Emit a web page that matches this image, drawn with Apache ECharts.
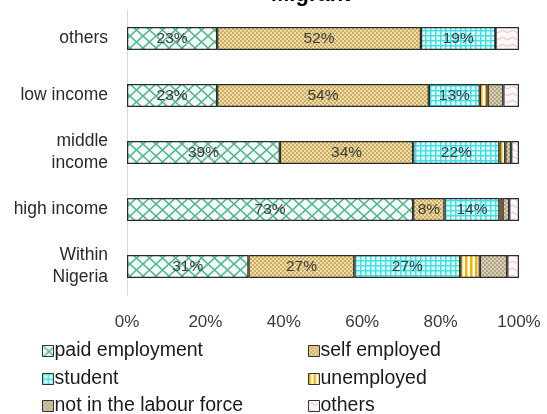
<!DOCTYPE html>
<html>
<head>
<meta charset="utf-8">
<script src="https://cdn.jsdelivr.net/npm/echarts@6/dist/echarts.min.js"></script>
<style>
  html, body { margin: 0; padding: 0; background: #fff; }
  #chart { width: 547px; height: 414px; }
</style>
</head>
<body>
<div id="chart"></div>
<script>
// Groups (bottom to top on the chart)
const categories = ['Within\nNigeria', 'high income', 'middle\nincome', 'low income', 'others'];
const seriesNames = ['paid employment', 'self employed', 'student', 'unemployed', 'not in the labour force', 'others'];

// Share of each activity per group, percent
const paidEmployment = [31, 73, 39, 23, 23];
const selfEmployed   = [27, 8, 34, 54, 52];
const student        = [27, 14, 22, 13, 19];
const unemployed     = [5, 0.8, 1.5, 2, 0];
const notInLabour    = [7, 1.7, 1.5, 4, 0];
const othersShare    = [3, 2.5, 2, 4, 6];

const xTicks = [0, 20, 40, 60, 80, 100];

// Hatch fills drawn on small canvases and tiled
function tile(w, h, draw) {
  const c = document.createElement('canvas');
  c.width = w; c.height = h;
  const g = c.getContext('2d');
  draw(g, w, h);
  return { image: c, repeat: 'repeat' };
}

const fillPaid = tile(13, 12, (g, w, h) => {
  g.fillStyle = '#f3fbf7'; g.fillRect(0, 0, w, h);
  g.strokeStyle = '#4fb58c'; g.lineWidth = 1.4;
  g.beginPath();
  g.moveTo(-1, -1); g.lineTo(w + 1, h + 1);
  g.moveTo(w + 1, -1); g.lineTo(-1, h + 1);
  g.stroke();
});

const fillSelf = tile(4, 4, (g, w, h) => {
  g.fillStyle = '#ecdcab'; g.fillRect(0, 0, w, h);
  g.fillStyle = '#cfae62';
  g.fillRect(0, 0, 2, 2); g.fillRect(2, 2, 2, 2);
});

const fillStudent = tile(5, 5, (g, w, h) => {
  g.fillStyle = '#e8ffff'; g.fillRect(0, 0, w, h);
  g.fillStyle = '#3fe0e6';
  g.fillRect(0, 0, w, 1.5); g.fillRect(0, 0, 1.5, h);
});

const fillUnemp = tile(5, 4, (g, w, h) => {
  g.fillStyle = '#ffffff'; g.fillRect(0, 0, w, h);
  g.fillStyle = '#f2b400';
  g.fillRect(0, 0, 2.5, h);
});

const fillNlf = tile(4, 4, (g, w, h) => {
  g.fillStyle = '#d6ceb4'; g.fillRect(0, 0, w, h);
  g.fillStyle = '#b3a684';
  g.fillRect(0, 0, 2, 2); g.fillRect(2, 2, 2, 2);
});

const fillOthers = tile(10, 7, (g, w, h) => {
  g.fillStyle = '#fdf8f8'; g.fillRect(0, 0, w, h);
  g.strokeStyle = '#efbcbc'; g.lineWidth = 1;
  g.beginPath();
  g.moveTo(0, 3.5);
  g.quadraticCurveTo(2.5, 1, 5, 3.5);
  g.quadraticCurveTo(7.5, 6, 10, 3.5);
  g.stroke();
});

const fills = [fillPaid, fillSelf, fillStudent, fillUnemp, fillNlf, fillOthers];
const values = [paidEmployment, selfEmployed, student, unemployed, notInLabour, othersShare];

const FONT = 'Liberation Sans';

const series = seriesNames.map((name, i) => ({
  name: name,
  type: 'bar',
  stack: 'total',
  barWidth: 23,
  data: values[i],
  itemStyle: {
    color: fills[i],
    borderColor: '#2b2b2b',
    borderWidth: 1.2
  },
  label: {
    show: i < 3,
    position: 'inside',
    color: '#3a3a3a',
    fontFamily: FONT,
    fontSize: 15.5,
    formatter: p => Math.round(p.value) + '%'
  },
  emphasis: { disabled: true }
}));

// Legend: two columns of three entries
const legendSpots = [
  { name: 'paid employment', left: 42, top: 341 },
  { name: 'self employed', left: 308, top: 341 },
  { name: 'student', left: 42, top: 369 },
  { name: 'unemployed', left: 308, top: 369 },
  { name: 'not in the labour force', left: 42, top: 396 },
  { name: 'others', left: 308, top: 396 }
];
const legends = legendSpots.map(s => ({
  data: [s.name],
  left: s.left,
  top: s.top,
  padding: 0,
  itemWidth: 11,
  itemHeight: 11,
  icon: 'rect',
  selectedMode: false,
  textStyle: { fontFamily: FONT, fontSize: 19.5, color: '#1a1a1a', padding: [0, 0, 0, -4] },
  itemStyle: { borderColor: '#333', borderWidth: 1 }
}));

const chart = echarts.init(document.getElementById('chart'), null, { renderer: 'canvas' });

chart.setOption({
  animation: false,
  backgroundColor: '#ffffff',
  title: {
    text: 'Migrant',
    left: 266,
    top: -21,
    textStyle: { fontFamily: FONT, fontSize: 22, fontWeight: 'bold', color: '#000' }
  },
  legend: legends,
  grid: { left: 127, right: 28, top: 10, height: 285, containLabel: false },
  xAxis: {
    type: 'value',
    min: xTicks[0],
    max: xTicks[xTicks.length - 1],
    interval: 20,
    axisLine: { show: false },
    axisTick: { show: false },
    splitLine: { show: false },
    axisLabel: {
      formatter: v => v + '%',
      fontFamily: FONT,
      fontSize: 17,
      color: '#3a3a3a',
      margin: 19
    }
  },
  yAxis: {
    type: 'category',
    data: categories,
    axisLine: { show: true, lineStyle: { color: '#d9d9d9', width: 1 } },
    axisTick: { show: false },
    axisLabel: {
      fontFamily: FONT,
      fontSize: 17.5,
      color: '#2a2a2a',
      margin: 19,
      lineHeight: 22,
      align: 'right'
    }
  },
  series: series
});
</script>
</body>
</html>
